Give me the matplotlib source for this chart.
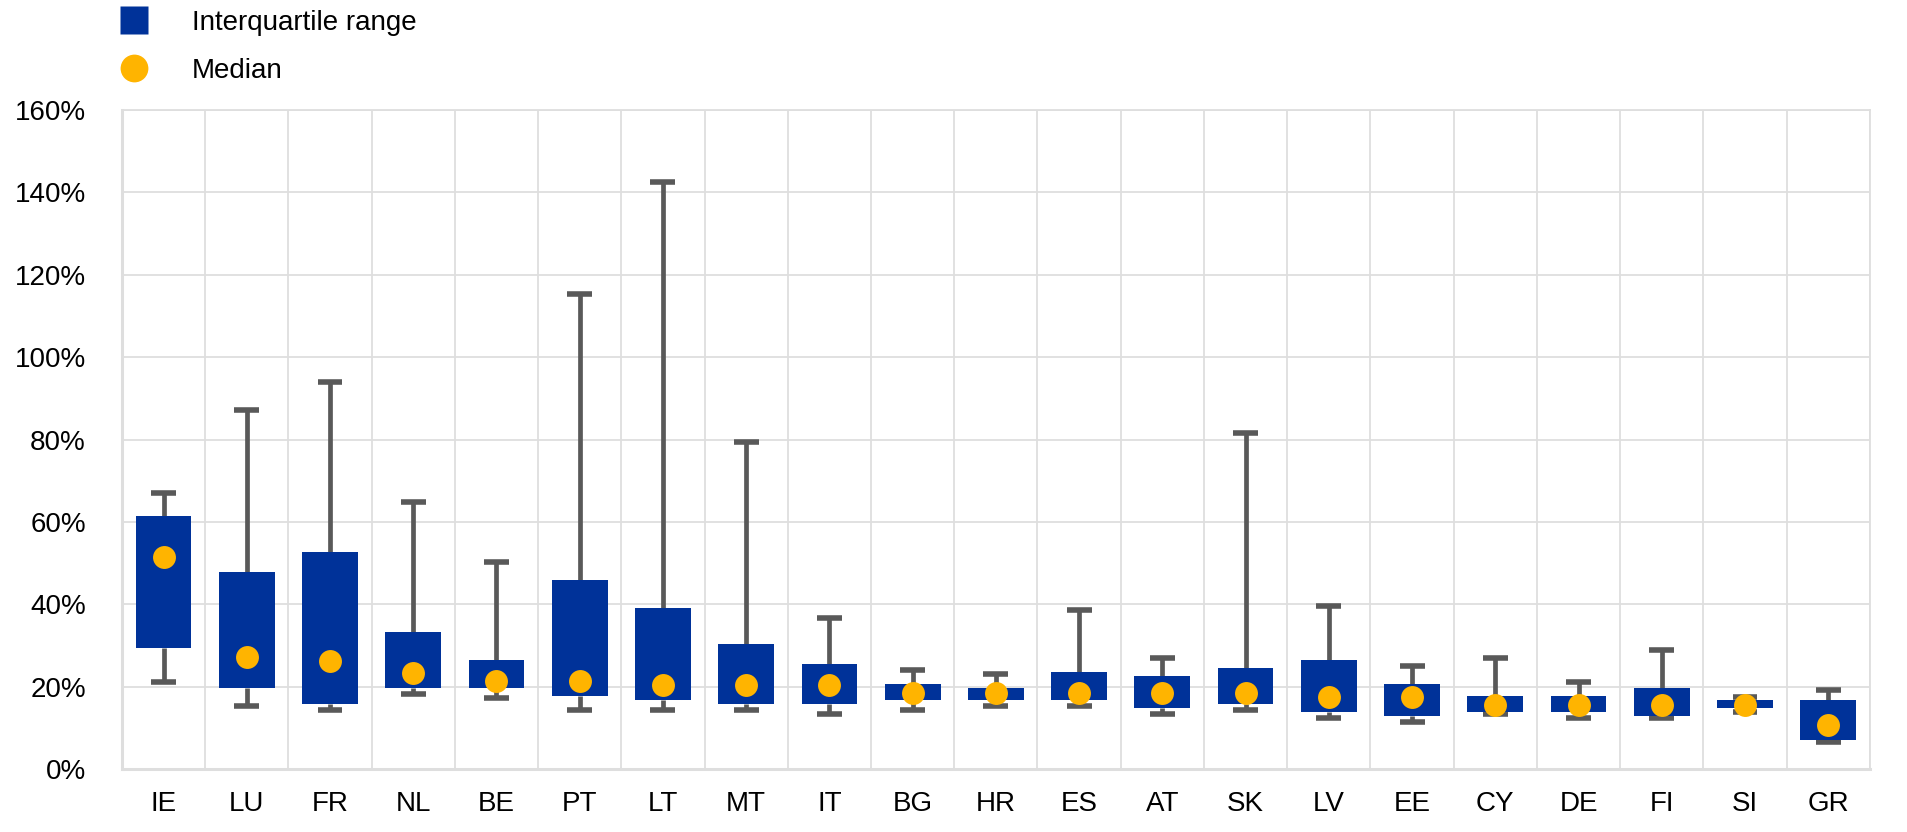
import numpy as np
import matplotlib
matplotlib.use('Agg')
import matplotlib.pyplot as plt
from matplotlib.lines import Line2D
from matplotlib.ticker import FuncFormatter

plt.rcParams['font.family'] = ['Liberation Sans', 'DejaVu Sans']

countries = ['IE', 'LU', 'FR', 'NL', 'BE', 'PT', 'LT', 'MT', 'IT', 'BG', 'HR',
             'ES', 'AT', 'SK', 'LV', 'EE', 'CY', 'DE', 'FI', 'SI', 'GR']
# interquartile range (%)
q1 = [29.4, 19.7, 15.9, 19.7, 19.7, 17.8, 16.8, 15.9, 15.9, 16.8, 16.8,
      16.8, 14.9, 15.9, 13.9, 12.9, 13.9, 13.9, 12.9, 14.9, 7.1]
q3 = [61.4, 47.8, 52.7, 33.3, 26.5, 45.9, 39.1, 30.3, 25.5, 20.6, 19.7,
      23.5, 22.6, 24.5, 26.5, 20.6, 17.7, 17.7, 19.7, 16.7, 16.7]
median = [51.5, 27.3, 26.3, 23.4, 21.4, 21.4, 20.5, 20.5, 20.5, 18.5, 18.5,
          18.5, 18.5, 18.5, 17.5, 17.5, 15.6, 15.6, 15.6, 15.6, 10.8]
# whisker ends (%)
low = [21.2, 15.4, 14.4, 18.3, 17.3, 14.4, 14.4, 14.4, 13.4, 14.4, 15.4,
       15.4, 13.4, 14.4, 12.5, 11.5, 13.4, 12.5, 12.5, 13.9, 6.6]
high = [66.9, 87.2, 94.0, 64.9, 50.3, 115.4, 142.5, 79.4, 36.7, 24.0, 23.1,
        38.7, 26.9, 81.5, 39.6, 25.0, 26.9, 21.1, 28.9, 17.5, 19.2]

blue = '#003299'
yellow = '#FFB400'
grey = '#595959'
gridc = '#dedede'

fig = plt.figure(figsize=(19.08, 8.32), dpi=100)
ax = fig.add_axes([0.0639, 0.0757, 0.9161, 0.7921])

x = np.arange(len(countries))
q1 = np.array(q1)
q3 = np.array(q3)

ax.vlines(x, low, q1, color=grey, lw=3.4, zorder=2)
ax.vlines(x, q3, high, color=grey, lw=3.4, zorder=2)
ax.hlines(low, x - 0.15, x + 0.15, color=grey, lw=4.0, zorder=2)
ax.hlines(high, x - 0.15, x + 0.15, color=grey, lw=4.0, zorder=2)
ax.bar(x, q3 - q1, bottom=q1, width=0.67, color=blue, zorder=3)
ax.plot(x, median, 'o', color=yellow, ms=16.5, mec='none', zorder=4)

ax.set_xlim(-0.5, len(countries) - 0.5)
ax.set_ylim(0, 160)
ax.set_yticks(np.arange(0, 161, 20))
ax.yaxis.set_major_formatter(FuncFormatter(lambda v, p: '%d%%' % v))
ax.set_xticks(x)
ax.set_xticklabels(countries)
ax.set_xticks(np.arange(-0.5, len(countries)), minor=True)
ax.tick_params(axis='both', which='both', length=0, labelsize=20)
ax.tick_params(axis='y', pad=26)
ax.tick_params(axis='x', pad=16)
ax.grid(axis='y', which='major', color=gridc, lw=1.3, zorder=0)
ax.grid(axis='x', which='minor', color=gridc, lw=1.3, zorder=0)
ax.set_axisbelow(True)
for s in ['left', 'bottom']:
    ax.spines[s].set_color(gridc)
    ax.spines[s].set_linewidth(2.2)
for s in ['top', 'right']:
    ax.spines[s].set_color(gridc)
    ax.spines[s].set_linewidth(1.3)

handles = [Line2D([], [], marker='s', ls='none', color=blue, ms=20, mec='none'),
           Line2D([], [], marker='o', ls='none', color=yellow, ms=20, mec='none')]
fig.legend(handles, ['Interquartile range', 'Median'], loc='upper left',
           bbox_to_anchor=(120 / 1908, 1 - 10 / 832), frameon=False, fontsize=20,
           borderpad=0, borderaxespad=0, handlelength=1.0, handletextpad=1.6,
           labelspacing=0.78)

plt.savefig('out.png', dpi=100)
